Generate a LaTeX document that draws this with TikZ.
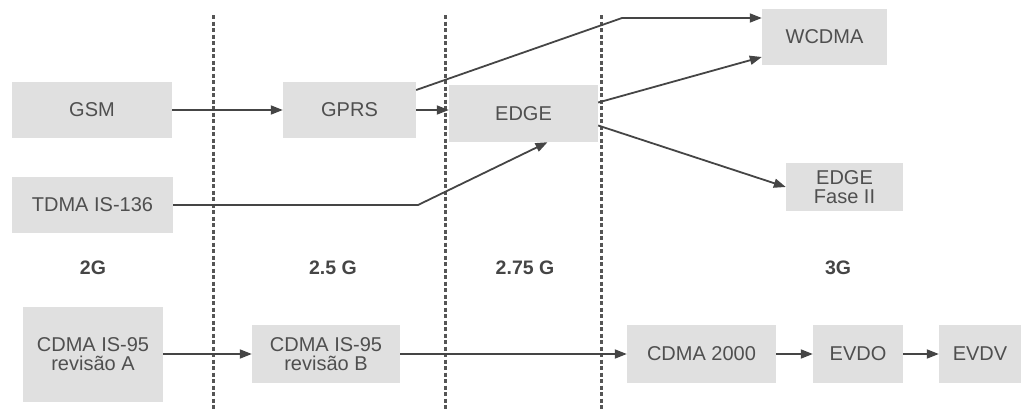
\documentclass[tikz,border=0pt]{standalone}
\usepackage{fontspec}
\setmainfont{Liberation Sans}
\usetikzlibrary{arrows.meta}
\definecolor{boxgray}{HTML}{E0E0E0}
\definecolor{txtgray}{HTML}{4F4F4F}
\definecolor{lingray}{HTML}{454545}
\definecolor{sepgray}{HTML}{555555}
\begin{document}
\begin{tikzpicture}[x=1pt,y=-1pt,
    box/.style={fill=boxgray, text=txtgray, align=center, inner sep=0pt,
      font=\fontsize{20}{19.5}\selectfont},
    gen/.style={text=lingray, font=\fontsize{19.5}{20}\selectfont\bfseries},
    arr/.style={draw=lingray, line width=1.8pt, -{Triangle[length=12pt,width=9pt]}},
    sep/.style={draw=sepgray, line width=3pt, dash pattern=on 4pt off 2.5pt}]
    \useasboundingbox (0,0) rectangle (1022,410);

    % 区切り線
    \foreach \x in {213,445,601}
      \draw[sep] (\x,15) -- (\x,410);

    % GSM 系
    \node[box, minimum width=160pt, minimum height=56pt] (gsm) at (92,110) {GSM};
    \node[box, minimum width=161pt, minimum height=56pt] (tdma) at (92.5,205) {TDMA IS-136};
    \node[box, minimum width=133pt, minimum height=56pt] (gprs) at (349.5,110) {GPRS};
    \node[box, minimum width=149pt, minimum height=57pt] (edge) at (523.5,113.5) {EDGE};
    \node[box, minimum width=125pt, minimum height=56pt] (wcdma) at (824.5,37) {WCDMA};
    \node[box, minimum width=117pt, minimum height=48pt] (fase) at (844.5,187) {EDGE\\Fase II};

    % CDMA 系
    \node[box, minimum width=140pt, minimum height=95pt] (cdmaA) at (93,354) {CDMA IS-95\\revisão A};
    \node[box, minimum width=148pt, minimum height=58pt] (cdmaB) at (326,354) {CDMA IS-95\\revisão B};
    \node[box, minimum width=149pt, minimum height=58pt] (cdma2k) at (701.5,354) {CDMA 2000};
    \node[box, minimum width=90pt, minimum height=58pt] (evdo) at (858,354) {EVDO};
    \node[box, minimum width=82pt, minimum height=58pt] (evdv) at (980,354) {EVDV};

    % 世代
    \node[gen] (g2) at (93,268) {2G};
    \node[gen] (g25) at (333,268) {2.5 G};
    \node[gen] (g275) at (525,268) {2.75 G};
    \node[gen] (g3) at (838,268) {3G};

    % 矢印
    \coordinate (k1) at (622,18);
    \coordinate (k2) at (418,205);
    \draw[arr] (gsm) -- (gprs);
    \draw[arr] (gprs.east) -- (gprs.east -| edge.west);
    \draw[arr] ([yshift=20pt]gprs.east) -- (k1) -- (k1 -| wcdma.west);
    \draw[arr] ([yshift=11pt]edge.east) -- ([yshift=-20pt]wcdma.west);
    \draw[arr] ([yshift=-12pt]edge.east) -- (fase.west);
    \draw[arr] (tdma.east) -- (k2) -- ([xshift=24pt]edge.south);

    \draw[arr] (cdmaA) -- (cdmaB);
    \draw[arr] (cdmaB) -- (cdma2k);
    \draw[arr] (cdma2k) -- (evdo);
    \draw[arr] (evdo) -- (evdv);
  \end{tikzpicture}
\end{document}
